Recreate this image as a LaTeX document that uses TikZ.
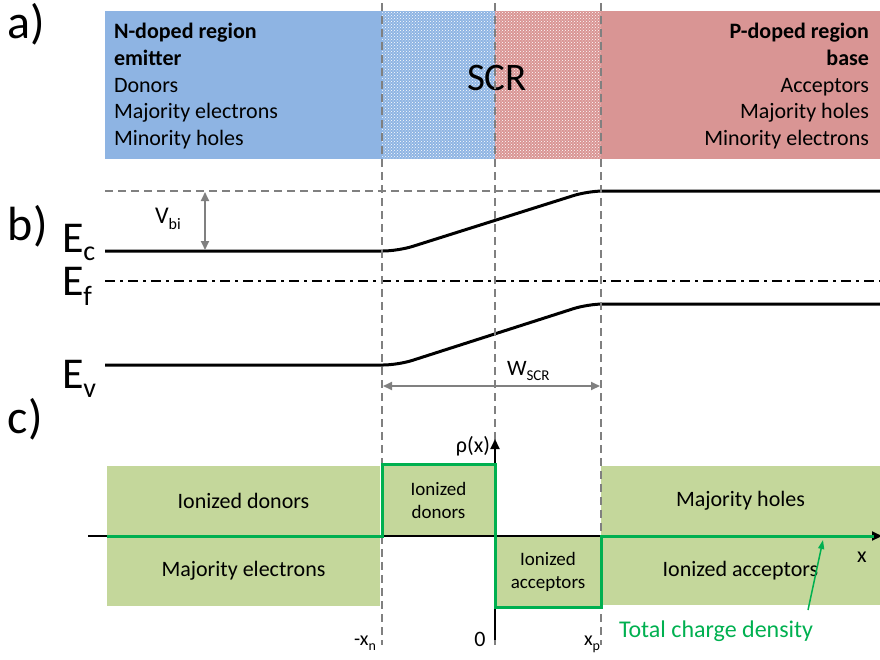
\documentclass[tikz,border=0pt]{standalone}
\usepackage{fontspec}
\setmainfont{Carlito}
\usetikzlibrary{patterns,arrows.meta}

\definecolor{ndoped}{HTML}{8EB4E3}
\definecolor{pdoped}{HTML}{D99594}
\definecolor{boxgreen}{HTML}{C4D79B}
\definecolor{rhogreen}{HTML}{00B050}
\definecolor{guide}{HTML}{808080}

% lowered index: depth, size, text
\newcommand\subidx[3]{\raisebox{-#1}{\fontsize{#2}{#2}\selectfont #3}}

\begin{document}
\begin{tikzpicture}[x=1pt,y=-1pt,
  every node/.style={inner sep=0pt,outer sep=0pt},
  guideline/.style={draw=guide,line width=2.1pt,dash pattern=on 8pt off 5pt},
  bandedge/.style={draw=black,line width=3pt,rounded corners=15pt},
  fermi/.style={draw=black,line width=2.5pt,dash pattern=on 10pt off 5pt on 3pt off 5pt},
  dimarrow/.style={draw=guide,line width=1.8pt,{Triangle[length=9pt,width=8pt]}-{Triangle[length=9pt,width=8pt]}},
  axis/.style={draw=black,line width=2pt,-{Triangle[length=10pt,width=9pt]}},
  chargebox/.style={fill=boxgreen,align=center},
  bigtxt/.style={font=\fontsize{22}{26.8}\selectfont},
  smalltxt/.style={font=\fontsize{19}{23}\selectfont},
  panellabel/.style={font=\fontsize{48}{50}\selectfont,anchor=base west},
  levellabel/.style={font=\fontsize{44}{46}\selectfont,anchor=base west},
  density/.style={draw=rhogreen,line width=3pt},
]
\useasboundingbox (0,0) rectangle (880,659);

% ---- a) doping regions ----
\fill[ndoped] (105,11) rectangle (382,159);
\fill[ndoped] (382,11) rectangle (495,159);
\fill[pattern=crosshatch dots,pattern color=white] (382,11) rectangle (495,159);
\fill[pdoped] (495,11) rectangle (601,159);
\fill[pattern=crosshatch dots,pattern color=white] (495,11) rectangle (601,159);
\fill[pdoped] (601,11) rectangle (880,159);

\node[bigtxt,align=left,anchor=north west] (nreg) at (114,23)
  {\textbf{N-doped region}\\\textbf{emitter}\\Donors\\Majority electrons\\Minority holes};
\node[bigtxt,align=right,anchor=north east] (preg) at (869,23)
  {\textbf{P-doped region}\\\textbf{base}\\Acceptors\\Majority holes\\Minority electrons};
\node[font=\fontsize{39}{40}\selectfont] (scr) at (497,78) {SCR};

\node[panellabel] (pa) at (8,38) {a)};
\node[panellabel] (pb) at (8,240) {b)};
\node[panellabel] (pc) at (8,433) {c)};

% ---- b) band diagram ----
\draw[guideline] (105,191) -- (578,191);
\draw[bandedge] (105,251) -- (398,251) -- (588,191) -- (880,191);
\draw[fermi] (105,281) -- (880,281);
\draw[bandedge] (105,365) -- (398,365) -- (588,304) -- (880,304);
\draw[dimarrow] (205,192) -- (205,250);
\node[anchor=base west,font=\fontsize{24}{24}\selectfont] (vbi) at (155,223) {V\subidx{6pt}{16}{bi}};
\draw[dimarrow] (383,386) -- (600,386);
\node[anchor=base west,font=\fontsize{22}{22}\selectfont] (wscr) at (507,375) {W\subidx{5pt}{15}{SCR}};

\node[levellabel] (ec) at (62,252) {E\subidx{8pt}{28}{c}};
\node[levellabel] (ef) at (62,295) {E\subidx{10pt}{28}{f}};
\node[levellabel] (ev) at (62,388) {E\subidx{9pt}{28}{v}};

% ---- c) charge density ----
\node[chargebox,bigtxt,minimum width=273pt,minimum height=70pt] (ndon) at (243.5,501) {Ionized donors};
\node[chargebox,bigtxt,minimum width=273pt,minimum height=70pt] (nel) at (243.5,571) {Majority electrons};
\node[chargebox,smalltxt,minimum width=113pt,minimum height=72pt] (scrdon) at (438.5,500) {Ionized\\donors};
\node[chargebox,smalltxt,minimum width=106pt,minimum height=71pt] (scracc) at (548,571.5) {Ionized\\acceptors};
\node[chargebox,bigtxt,minimum width=279pt,minimum height=70pt] (phol) at (740.5,501) {Majority holes};
\node[chargebox,bigtxt,minimum width=279pt,minimum height=69pt] (pacc) at (740.5,570.5) {Ionized acceptors};

% boundaries of the space charge region
\draw[guideline] (382,3) -- (382,645);
\draw[guideline] (495,3) -- (495,645);
\draw[guideline] (601,3) -- (601,645);

\draw[axis] (88,536) -- (882,536);
\draw[axis] (495,640) -- (495,439);
\draw[density] (107,536) -- (382,536) -- (382,464) -- (495,464) -- (495,607) -- (601,607) -- (601,536) -- (874,536);

\node[anchor=base east,font=\fontsize{22}{22}\selectfont] (rho) at (490,452) {ρ(x)};
\node[anchor=base west,bigtxt] (xlab) at (857,562) {x};
\node[anchor=base east,font=\fontsize{20}{20}\selectfont] (xn) at (376,645) {-x\subidx{5pt}{14}{n}};
\node[anchor=base,font=\fontsize{22}{22}\selectfont] (zero) at (480,646) {0};
\node[anchor=base west,font=\fontsize{20}{20}\selectfont] (xp) at (584,645) {x\subidx{5pt}{14}{p}};

\node[anchor=base west,font=\fontsize{24}{24}\selectfont,text=rhogreen] (tcd) at (619,637) {Total charge density};
\coordinate (tcdfoot) at (808,610);
\coordinate (tcdtip) at (823,540);
\draw[draw=rhogreen,line width=1.5pt,-{Triangle[length=9pt,width=6pt]}] (tcdfoot) -- (tcdtip);
\end{tikzpicture}
\end{document}
